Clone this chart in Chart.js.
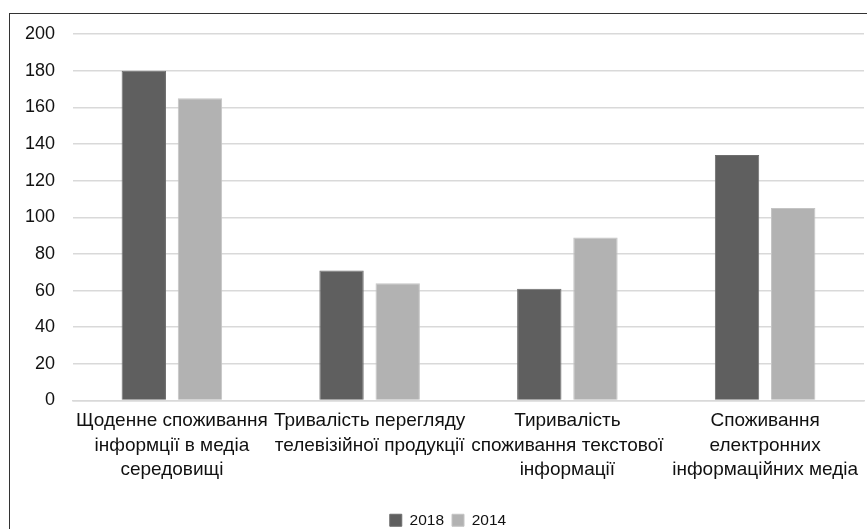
<!DOCTYPE html>
<html>
<head>
<meta charset="utf-8">
<script src="https://cdn.jsdelivr.net/npm/chart.js@4"></script>
<style>
html,body{margin:0;padding:0;background:#fff;}
#wrap{position:relative;width:867px;height:529px;overflow:hidden;}
#frame{position:absolute;left:9px;top:13px;width:900px;height:600px;border-left:1px solid #333;border-top:1px solid #333;box-sizing:border-box;pointer-events:none;}
canvas{position:absolute;left:0;top:0;}
</style>
</head>
<body>
<div id="wrap">
<canvas id="c" width="867" height="538"></canvas>
<div id="frame"></div>
</div>
<script>
const categories = [
  ["Щоденне споживання", "інформції в медіа", "середовищі"],
  ["Тривалість перегляду", "телевізійної продукції"],
  ["Тиривалість", "споживання текстової", "інформації"],
  ["Споживання", "електронних", "інформаційних медіа"]
];
const seriesNames = ["2018", "2014"];
const values2018 = [180, 71, 61, 134];
const values2014 = [165, 64, 89, 105];
const yTicks = [0, 20, 40, 60, 80, 100, 120, 140, 160, 180, 200];

const FONT = "'Liberation Sans', Arial, sans-serif";
Chart.defaults.font.family = FONT;
Chart.defaults.color = '#111';

const shiftLegend = {
  id: 'shiftLegend',
  afterLayout(chart) {
    const lg = chart.legend;
    if (lg) { lg.left += 16; lg.right += 16; }
  }
};

new Chart(document.getElementById('c'), {
  type: 'bar',
  data: {
    labels: categories,
    datasets: [
      { label: seriesNames[0], data: values2018, backgroundColor: '#5f5f5f', borderColor: '#6e6e6e', borderWidth: 1 },
      { label: seriesNames[1], data: values2014, backgroundColor: '#b2b2b2', borderColor: '#c4c4c4', borderWidth: 1 }
    ]
  },
  plugins: [shiftLegend],
  options: {
    responsive: false,
    animation: false,
    devicePixelRatio: 1,
    categoryPercentage: 0.568,
    barPercentage: 0.79,
    layout: { padding: { top: 34, right: 3, bottom: 0, left: 0 } },
    plugins: {
      tooltip: { enabled: false },
      legend: {
        position: 'bottom',
        labels: { boxWidth: 12, boxHeight: 12, font: { size: 15.5 }, color: '#111', padding: 8 }
      }
    },
    scales: {
      x: {
        grid: { display: false, drawTicks: false },
        border: { display: true, color: '#d9d9d9', width: 1.5 },
        ticks: { font: { size: 19, lineHeight: 1.3 }, color: '#111', padding: 8, maxRotation: 0, autoSkip: false },
        afterFit: s => { s.height = 104; }
      },
      y: {
        min: 0, max: 200,
        afterBuildTicks: s => { s.ticks = yTicks.map(v => ({ value: v })); },
        grid: { color: '#d9d9d9', lineWidth: 1.5, drawTicks: false },
        border: { display: false },
        ticks: { font: { size: 18 }, color: '#111', padding: 18 },
        afterFit: s => { s.width = 73; }
      }
    }
  }
});
</script>
</body>
</html>
